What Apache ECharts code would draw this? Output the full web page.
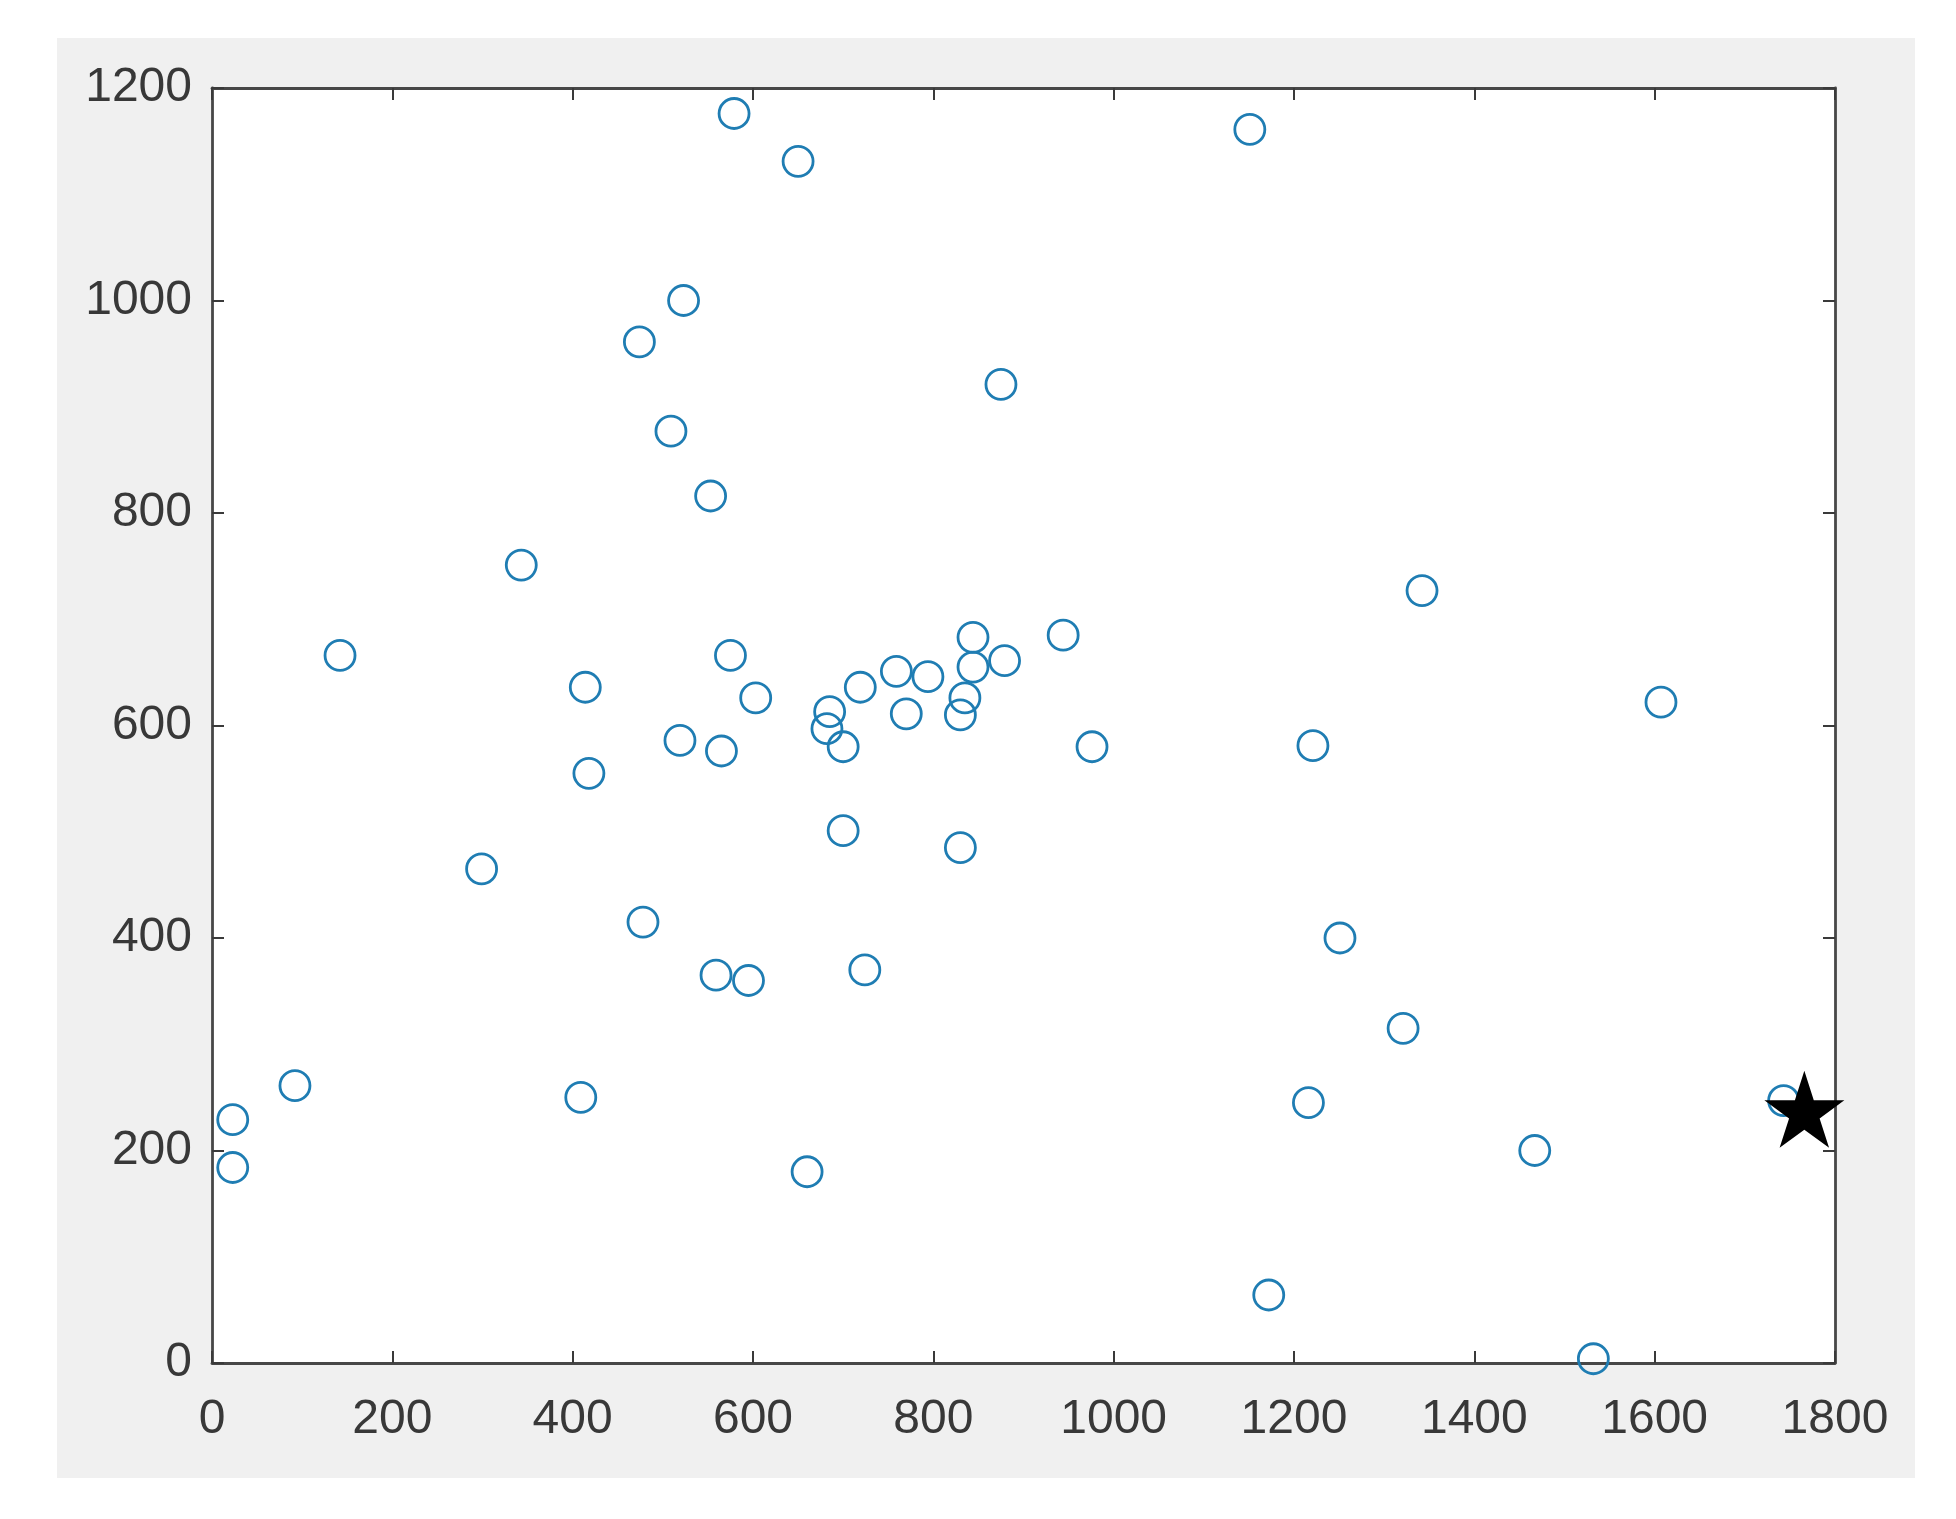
<!DOCTYPE html>
<html><head><meta charset="utf-8">
<script src="https://cdn.jsdelivr.net/npm/echarts@6/dist/echarts.min.js"></script>
<style>
html,body{margin:0;padding:0;background:#fff;width:1956px;height:1519px;overflow:hidden}
#bg{position:absolute;left:57px;top:38px;width:1858px;height:1440px;background:#f0f0f0}
#chart{position:absolute;left:0;top:0;width:1956px;height:1519px}
</style></head><body>
<div id="bg"></div><div id="chart"></div>
<script>
const xTicks = [0, 200, 400, 600, 800, 1000, 1200, 1400, 1600, 1800];
const yTicks = [0, 200, 400, 600, 800, 1000, 1200];

const circleX = [579, 650, 1151, 523, 474, 875, 509, 553, 343, 1342,
                 142, 575, 944, 844, 879, 844, 759, 794, 719, 414,
                 603, 835, 1607, 685, 830, 770, 682, 519, 700, 976,
                 1221, 565, 418, 700, 830, 299, 478, 1251, 724, 559,
                 595, 1321, 92, 409, 1216, 1743, 23, 1467, 23, 660,
                 1172, 1532];
const circleY = [1176, 1131, 1161, 1000, 961, 921, 877, 816, 751, 727,
                 666, 666, 685, 683, 661, 655, 651, 646, 636, 636,
                 626, 626, 622, 613, 610, 611, 597, 586, 580, 580,
                 581, 576, 555, 501, 485, 465, 415, 400, 370, 365,
                 360, 315, 261, 250, 245, 247, 229, 200, 184, 180,
                 64, 4];
const starX = [1766];
const starY = [235];

const circleData = circleX.map((x, i) => [x, circleY[i]]);
const starData = starX.map((x, i) => [x, starY[i]]);

const starPath = 'path://M0,-100L22.45,-30.9L95.1,-30.9L36.3,11.8L58.8,80.9L0,38.2L-58.8,80.9L-36.3,11.8L-95.1,-30.9L-22.45,-30.9Z';

const axisLineStyle = {color: '#474747', width: 2.8};
const tickStyle = {show: true, inside: true, length: 12, lineStyle: {color: '#3a3a3a', width: 2}};
const labelStyle = {fontSize: 48, color: '#383838', fontFamily: 'Liberation Sans, Arial, sans-serif',
                    formatter: v => String(v)};

function xAx(pos, showLabel) {
  return {
    type: 'value', position: pos,
    min: xTicks[0], max: xTicks[xTicks.length - 1], interval: xTicks[1] - xTicks[0],
    axisLine: {show: true, onZero: false, lineStyle: axisLineStyle},
    axisTick: tickStyle,
    axisLabel: Object.assign({show: showLabel, margin: 33}, labelStyle),
    splitLine: {show: false}
  };
}
function yAx(pos, showLabel) {
  return {
    type: 'value', position: pos,
    min: yTicks[0], max: yTicks[yTicks.length - 1], interval: yTicks[1] - yTicks[0],
    axisLine: {show: true, onZero: false, lineStyle: axisLineStyle},
    axisTick: tickStyle,
    axisLabel: Object.assign({show: showLabel, margin: 20}, labelStyle),
    splitLine: {show: false}
  };
}

const chart = echarts.init(document.getElementById('chart'), null, {renderer: 'canvas'});
chart.setOption({
  animation: false,
  backgroundColor: 'transparent',
  grid: {
    left: 212, top: 88, width: 1623, height: 1275,
    show: true, backgroundColor: '#ffffff', borderWidth: 0,
    containLabel: false, outerBoundsMode: 'none'
  },
  xAxis: [xAx('bottom', true), xAx('top', false)],
  yAxis: [yAx('left', true), yAx('right', false)],
  series: [
    {
      type: 'scatter', xAxisIndex: 0, yAxisIndex: 0,
      data: circleData, symbol: 'circle', symbolSize: 30, clip: false,
      itemStyle: {color: 'rgba(0,0,0,0)', borderColor: '#1f7db3', borderWidth: 2.8, opacity: 1},
      z: 3
    },
    {
      type: 'scatter', xAxisIndex: 0, yAxisIndex: 0,
      data: starData, symbol: starPath, symbolSize: [80, 77], symbolOffset: [0, -4],
      clip: false, itemStyle: {color: '#000000', opacity: 1}, z: 4
    }
  ]
});
</script>
</body></html>
